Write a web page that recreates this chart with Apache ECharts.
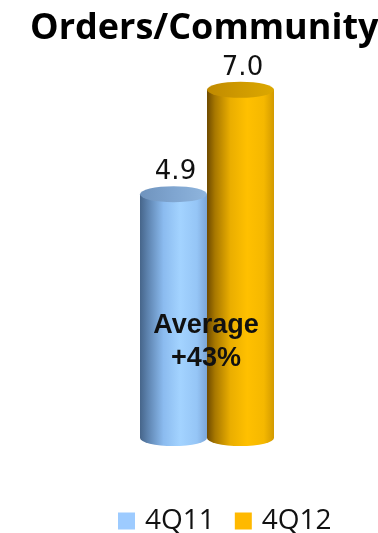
<!DOCTYPE html>
<html>
<head>
<meta charset="utf-8">
<script src="https://cdn.jsdelivr.net/npm/echarts@6/dist/echarts.min.js"></script>
<style>html,body{margin:0;padding:0;background:#fff;}#chart{width:378px;height:533px;}</style>
</head>
<body>
<div id="chart"></div>
<script>
const titleText = 'Orders/Community';
const categories = ['4Q11', '4Q12'];
const values = [4.9, 7.0];
const noteLines = ['Average', '+43%'];

const bodyGradients = [
  [[0, '#46658a'], [0.12, '#5e84b0'], [0.35, '#8bbbef'], [0.6, '#a3d3ff'], [0.85, '#95c5f6'], [1, '#7ca6d8']],
  [[0, '#6e4a00'], [0.12, '#a87800'], [0.35, '#eaae00'], [0.6, '#ffc000'], [0.85, '#f5b800'], [1, '#d29a00']]
];
const topGradients = [
  [[0, '#6f93bd'], [0.5, '#7fa5d0'], [1, '#8fb5dd']],
  [[0, '#c08a00'], [0.5, '#cf9a00'], [1, '#dca800']]
];
const legendColors = ['#9dcbff', '#ffb900'];

function grad(stops) {
  return new echarts.graphic.LinearGradient(0, 0, 1, 0, stops.map(s => ({offset: s[0], color: s[1]})));
}

function makeRender(idx) {
  return function (params, api) {
    const top = api.coord([api.value(0), api.value(1)]);
    const base = api.coord([api.value(0), 0]);
    const w = api.size([1, 0])[0];
    const rx = w / 2;
    const ry = 8;
    const cx = top[0];
    const sc = ry / rx;
    return {
      type: 'group',
      children: [
        {type: 'circle', x: cx, y: base[1], scaleY: sc, shape: {cx: 0, cy: 0, r: rx}, style: {fill: grad(bodyGradients[idx])}},
        {type: 'rect', shape: {x: cx - rx, y: top[1], width: w, height: base[1] - top[1]}, style: {fill: grad(bodyGradients[idx])}},
        {type: 'circle', x: cx, y: top[1], scaleY: sc, shape: {cx: 0, cy: 0, r: rx}, style: {fill: grad(topGradients[idx])}},
        {type: 'text', x: cx + 2, y: top[1] - ry - 1, style: {text: api.value(1).toFixed(1), align: 'center', verticalAlign: 'bottom', fontFamily: 'DejaVu Sans', fontSize: 26, fill: '#111'}}
      ]
    };
  };
}

const chart = echarts.init(document.getElementById('chart'));
chart.setOption({
  animation: false,
  title: {
    text: titleText, left: 25, top: 6,
    textStyle: {fontFamily: 'Open Sans', fontWeight: 'bold', fontSize: 36, color: '#000'}
  },
  legend: {
    data: categories, left: 113, top: 502, itemWidth: 17, itemHeight: 17, itemGap: 20, icon: 'rect',
    textStyle: {fontFamily: 'Open Sans', fontSize: 28, color: '#111', padding: [0, 0, 0, 5]}
  },
  grid: {left: 140, right: 104, top: 40, bottom: 95},
  xAxis: {type: 'category', data: categories, show: false},
  yAxis: {type: 'value', min: 0, max: 8, show: false},
  graphic: [{
    type: 'text', x: 206, y: 342, z: 100, zlevel: 0,
    style: {text: noteLines.join('\n'), align: 'center', verticalAlign: 'middle', fontFamily: 'Liberation Sans', fontWeight: 'bold', fontSize: 27, lineHeight: 33, fill: '#111'}
  }],
  series: categories.map((c, i) => ({
    type: 'custom', name: c, renderItem: makeRender(i),
    itemStyle: {color: legendColors[i]},
    encode: {x: 0, y: 1},
    data: [[c, values[i]]],
    z: 2 + i
  }))
});
</script>
</body>
</html>
